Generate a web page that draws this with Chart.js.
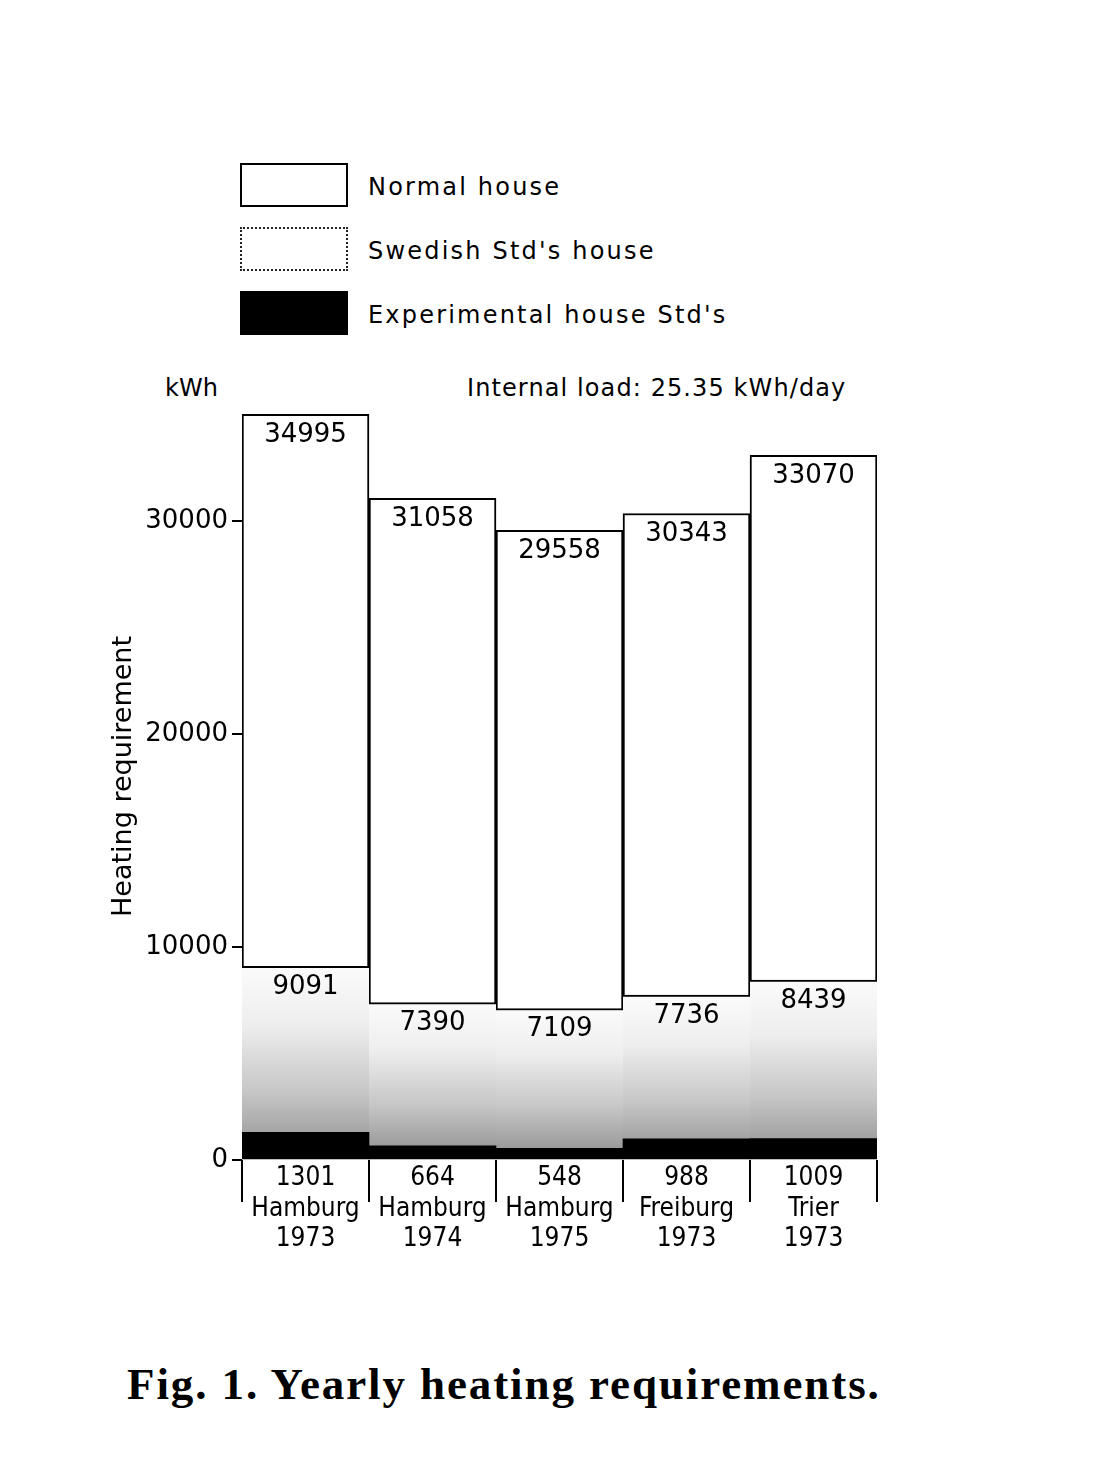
<!DOCTYPE html>
<html lang="en">
<head>
  <meta charset="UTF-8">
  <title>Fig. 1 – Yearly heating requirements</title>
  <script src="https://cdn.jsdelivr.net/npm/chart.js"></script>
  <style>
    body { margin: 0; background: #fff; font-family: 'DejaVu Sans', sans-serif; color: #000; }
    .page { position: relative; width: 1120px; height: 1483px; overflow: hidden; }
    .chart-wrap { position: absolute; left: 0; top: 0; width: 1120px; height: 1300px; }

    /* Legend */
    .key { position: absolute; left: 240px; width: 108px; height: 44px; box-sizing: border-box; }
    .key.normal { top: 163px; border: 2px solid #000; background: #fff; }
    .key.swedish { top: 227px; border: 2px dotted #222; background: #fff; }
    .key.exp { top: 291px; background: #000; }
    .key-label { position: absolute; left: 368px; font-size: 24px; letter-spacing: 2.2px; line-height: 1; }

    .note { position: absolute; font-size: 24px; line-height: 1; }
    .caption { position: absolute; left: 127px; top: 1358px; font-family: 'Liberation Serif', serif; font-weight: bold; font-size: 45px; letter-spacing: 1.9px; white-space: nowrap; }
  </style>
</head>
<body>
<div class="page">
  <div class="key normal"></div><div class="key-label" style="top:175px">Normal house</div>
  <div class="key swedish"></div><div class="key-label" style="top:239px">Swedish Std's house</div>
  <div class="key exp"></div><div class="key-label" style="top:303px">Experimental house Std's</div>

  <div class="note" style="left:165px; top:376px;">kWh</div>
  <div class="note" style="left:467px; top:376px; letter-spacing:1.1px;">Internal load: 25.35 kWh/day</div>

  <div class="chart-wrap"><canvas id="heat"></canvas></div>

  <div class="caption">Fig. 1. Yearly heating requirements.</div>
</div>

<script>
  // values (kWh per year)
  const cities = ['Hamburg', 'Hamburg', 'Hamburg', 'Freiburg', 'Trier'];
  const years = ['1973', '1974', '1975', '1973', '1973'];
  const normalHouse = [34995, 31058, 29558, 30343, 33070];
  const swedishHouse = [9091, 7390, 7109, 7736, 8439];
  const experimentalHouse = [1301, 664, 548, 988, 1009];

  const yTicks = [0, 10000, 20000, 30000];

  const tickLabels = cities.map((c, i) => [String(experimentalHouse[i]), c, years[i]]);

  // stippled look for the Swedish bars: light at top, grey at the base
  function swedishFill(ctx) {
    const chart = ctx.chart;
    if (!chart.chartArea) return '#ddd';
    const y = chart.scales.y;
    const top = y.getPixelForValue(swedishHouse[ctx.dataIndex]);
    const bot = y.getPixelForValue(0);
    const g = chart.ctx.createLinearGradient(0, top, 0, bot);
    g.addColorStop(0, '#fbfbfb');
    g.addColorStop(0.3, '#eeeeee');
    g.addColorStop(0.65, '#c6c6c6');
    g.addColorStop(1, '#8e8e8e');
    return g;
  }

  // numbers written inside the bars
  const barValues = {
    id: 'barValues',
    afterDatasetsDraw(chart) {
      const c = chart.ctx;
      c.save();
      c.fillStyle = '#000';
      c.font = '26px "DejaVu Sans"';
      c.textAlign = 'center';
      c.textBaseline = 'middle';
      [0, 1].forEach(di => {
        const meta = chart.getDatasetMeta(di);
        const vals = chart.data.datasets[di].data;
        meta.data.forEach((bar, i) => {
          c.fillText(String(vals[i]), bar.x, bar.y + 21);
        });
      });
      c.restore();
    }
  };

  new Chart(document.getElementById('heat'), {
    type: 'bar',
    data: {
      labels: tickLabels,
      datasets: [
        { label: 'Normal house', data: normalHouse, order: 3, grouped: false,
          backgroundColor: '#fff', borderColor: '#000', borderWidth: 2 },
        { label: "Swedish Std's house", data: swedishHouse, order: 2, grouped: false,
          backgroundColor: swedishFill, borderColor: '#000',
          borderWidth: { top: 2, left: 0, right: 0, bottom: 0 } },
        { label: "Experimental house Std's", data: experimentalHouse, order: 1, grouped: false,
          backgroundColor: '#000', borderWidth: 0 }
      ]
    },
    options: {
      responsive: true,
      maintainAspectRatio: false,
      animation: false,
      barPercentage: 1,
      categoryPercentage: 1,
      layout: { padding: { left: 104, top: 393, right: 243, bottom: 0 } },
      plugins: { legend: { display: false }, tooltip: { enabled: false } },
      scales: {
        x: {
          afterFit: s => { s.height = 140; },
          border: { display: false },
          grid: { offset: true, drawOnChartArea: false, drawTicks: true, tickLength: 42, lineWidth: 2, color: '#000' },
          ticks: { color: '#000', padding: -39, maxRotation: 0, autoSkip: false,
                   font: { family: 'DejaVu Sans Condensed', size: 26, lineHeight: 1.18 } }
        },
        y: {
          min: 0, max: 36000,
          afterFit: s => { s.width = 138; },
          afterBuildTicks: s => { s.ticks = yTicks.map(v => ({ value: v })); },
          border: { display: false },
          grid: { drawOnChartArea: false, drawTicks: true, tickLength: 10, lineWidth: 2, color: '#000' },
          ticks: { color: '#000', padding: 4, font: { family: 'DejaVu Sans', size: 26 },
                   callback: v => String(v) },
          title: { display: true, text: 'Heating requirement', color: '#000',
                   font: { family: 'DejaVu Sans', size: 27 }, padding: 4 }
        }
      }
    },
    plugins: [barValues]
  });
</script>
</body>
</html>
